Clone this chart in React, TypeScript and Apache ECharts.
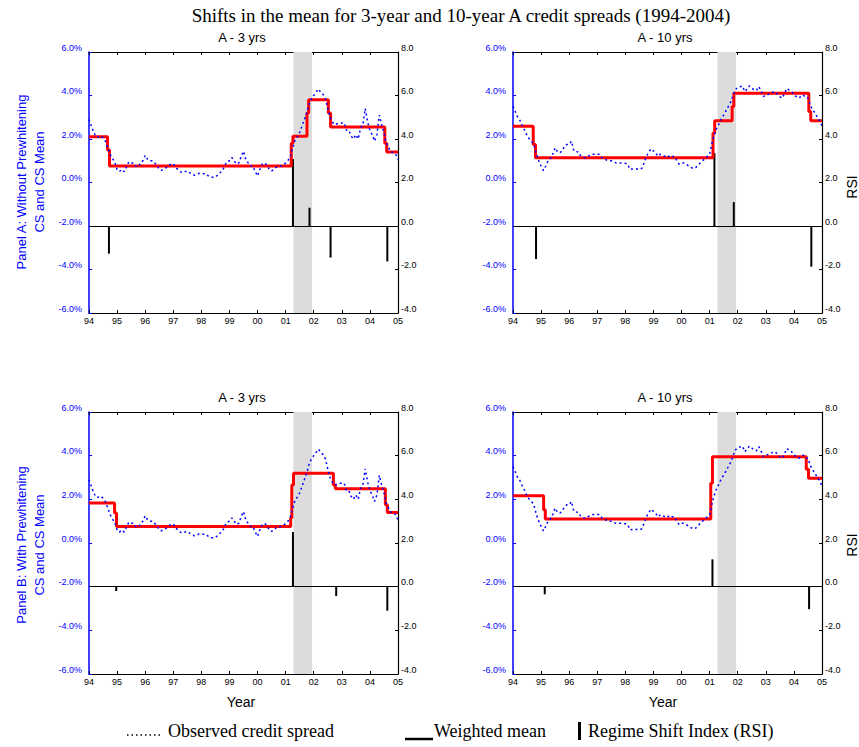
import React, { useEffect, useRef } from "react";
import * as echarts from "echarts";

// ---------------- DATA ----------------
const START_YEAR = 1994;
const END_YEAR = 2005;
const xTickYears = [1994, 1995, 1996, 1997, 1998, 1999, 2000, 2001, 2002, 2003, 2004, 2005];

// Observed monthly credit spreads (%), Jan 1994 .. Jan 2005
const obs3yr = [
  2.9, 2.6, 2.3, 2.1, 2.1, 2.15, 2.05, 1.9, 1.6, 1.3, 1.1, 0.95,
  0.6, 0.5, 0.6, 0.5, 0.72, 0.95, 0.9, 0.9, 0.75, 0.72, 0.87, 1.0,
  1.25, 1.07, 1.0, 1.0, 0.9, 0.8, 0.6, 0.56, 0.63, 0.68, 0.78, 0.85,
  0.87, 0.68, 0.6, 0.5, 0.45, 0.5, 0.53, 0.45, 0.4, 0.33, 0.35, 0.42,
  0.42, 0.4, 0.4, 0.3, 0.24, 0.24, 0.24, 0.35, 0.45, 0.53, 0.78, 0.96,
  1.0, 1.15, 1.0, 0.85, 0.9, 1.2, 1.44, 1.05, 0.9, 0.76, 0.76, 0.5,
  0.3, 0.6, 0.85, 0.9, 0.8, 0.6, 0.53, 0.6, 0.7, 0.76, 0.76, 0.8,
  0.9, 1.0, 1.2, 1.6, 1.95, 2.1, 2.3, 2.6, 2.9, 3.2, 3.6, 3.85,
  4.0, 4.15, 4.3, 4.15, 4.05, 3.85, 3.4, 3.0, 2.77, 2.66, 2.7, 2.74,
  2.74, 2.74, 2.4, 2.4, 2.13, 2.0, 2.2, 2.0, 2.5, 2.66, 3.4, 2.8,
  2.4, 2.2, 1.9, 2.2, 3.1, 2.66, 2.3, 1.8, 1.6, 1.4, 1.38, 1.3,
  1.06,
];

const obs10yr = [
  3.5, 3.25, 3.0, 2.85, 2.6, 2.4, 2.15, 2.0, 1.9, 1.7, 1.3, 1.0,
  0.76, 0.55, 0.76, 1.0, 1.1, 1.3, 1.6, 1.4, 1.37, 1.45, 1.67, 1.75,
  1.75, 1.9, 1.45, 1.42, 1.4, 1.2, 1.15, 1.14, 1.2, 1.25, 1.3, 1.3,
  1.3, 1.3, 1.14, 1.1, 1.03, 1.0, 1.0, 0.95, 0.9, 0.9, 0.9, 0.9,
  0.88, 0.84, 0.6, 0.62, 0.64, 0.62, 0.6, 0.65, 0.9, 1.2, 1.4, 1.55,
  1.45, 1.35, 1.2, 1.3, 1.25, 1.2, 1.25, 1.15, 1.2, 1.2, 1.0, 0.84,
  0.9, 0.9, 0.85, 0.76, 0.7, 0.64, 0.68, 0.8, 0.9, 1.0, 1.1, 1.2,
  1.3, 1.8, 2.2, 2.5, 2.7, 2.95, 3.1, 3.3, 3.5, 3.7, 4.0, 4.26,
  4.38, 4.4, 4.44, 4.18, 4.3, 4.44, 4.35, 4.25, 4.23, 4.41, 4.2, 3.95,
  4.03, 4.05, 4.1, 4.15, 4.18, 4.05, 3.95, 3.88, 4.1, 4.33, 4.25, 4.18,
  4.05, 3.95, 3.88, 3.95, 4.03, 3.9, 3.88, 3.55, 3.35, 3.2, 3.0, 2.85,
  2.6,
];

// Weighted mean: step change points (year) and level (%) from each point on
const meanA3Breaks = [1994.0, 1994.66, 1994.73, 2001.2, 2001.26, 2001.76, 2001.82, 2002.52, 2002.6, 2004.53, 2004.6, 2005.0];
const meanA3Levels = [2.1, 1.5, 0.76, 1.8, 2.13, 3.2, 3.8, 3.2, 2.55, 1.8, 1.4, 1.4];

const meanA10Breaks = [1994.0, 1994.72, 1994.8, 2001.12, 2001.18, 2001.8, 2001.86, 2004.53, 2004.6, 2005.0];
const meanA10Levels = [2.59, 1.75, 1.14, 2.28, 2.84, 3.5, 4.1, 3.27, 2.84, 2.84];

const meanB3Breaks = [1994.0, 1994.91, 1994.98, 2001.18, 2001.22, 2001.28, 2002.7, 2002.77, 2004.55, 2004.62, 2005.0];
const meanB3Levels = [1.83, 1.37, 0.76, 1.14, 2.66, 3.2, 2.66, 2.48, 1.75, 1.4, 1.4];

const meanB10Breaks = [1994.0, 1995.09, 1995.15, 2001.04, 2001.1, 2004.44, 2004.52, 2005.0];
const meanB10Levels = [2.16, 1.52, 1.1, 2.74, 3.95, 3.38, 2.97, 2.97];

// Regime Shift Index bars
const rsiA3Years = [1994.71, 2001.26, 2001.85, 2002.6, 2004.62];
const rsiA3Values = [-1.27, 3.08, 0.84, -1.45, -1.63];
const rsiA10Years = [1994.82, 2001.17, 2001.86, 2004.62];
const rsiA10Values = [-1.52, 3.35, 1.1, -1.87];
const rsiB3Years = [1994.97, 2001.26, 2002.8, 2004.62];
const rsiB3Values = [-0.2, 2.5, -0.43, -1.1];
const rsiB10Years = [1995.13, 2001.1, 2004.54];
const rsiB10Values = [-0.35, 1.25, -1.03];

// Recession shading
const recessionStart = 2001.28;
const recessionEnd = 2001.94;

const panelTitles = ["A - 3 yrs", "A - 10 yrs", "A - 3 yrs", "A - 10 yrs"];
const mainTitle = "Shifts in the mean for 3-year and 10-year A credit spreads (1994-2004)";

// ---------------- CHART ----------------
const SANS = "'Liberation Sans', Arial, sans-serif";
const SERIF = "'Liberation Serif', 'Times New Roman', serif";

type Panel = {
  grid: { left: number; top: number; width: number; height: number };
  obs: number[];
  breaks: number[];
  levels: number[];
  rsiYears: number[];
  rsiValues: number[];
};

function buildOption() {
  const panels: Panel[] = [
    { grid: { left: 89, top: 52, width: 309, height: 261 }, obs: obs3yr, breaks: meanA3Breaks, levels: meanA3Levels, rsiYears: rsiA3Years, rsiValues: rsiA3Values },
    { grid: { left: 513, top: 52, width: 309, height: 261 }, obs: obs10yr, breaks: meanA10Breaks, levels: meanA10Levels, rsiYears: rsiA10Years, rsiValues: rsiA10Values },
    { grid: { left: 89, top: 412, width: 309, height: 262 }, obs: obs3yr, breaks: meanB3Breaks, levels: meanB3Levels, rsiYears: rsiB3Years, rsiValues: rsiB3Values },
    { grid: { left: 513, top: 412, width: 309, height: 262 }, obs: obs10yr, breaks: meanB10Breaks, levels: meanB10Levels, rsiYears: rsiB10Years, rsiValues: rsiB10Values },
  ];

  const grids: any[] = [];
  const xAxes: any[] = [];
  const yAxes: any[] = [];
  const series: any[] = [];

  panels.forEach((p, i) => {
    grids.push({ ...p.grid, containLabel: false, show: false });
    // bottom x axis
    xAxes.push({
      type: "value",
      gridIndex: i,
      min: START_YEAR,
      max: END_YEAR,
      interval: 1,
      position: "bottom",
      axisLine: { show: true, onZero: false, lineStyle: { color: "#000", width: 1.2 } },
      axisTick: { show: true, inside: true, length: 3, lineStyle: { color: "#000" } },
      axisLabel: {
        show: true,
        margin: 3,
        color: "#000",
        fontFamily: SANS,
        fontSize: 9,
        formatter: (v: number) => String(Math.round(v) % 100).padStart(2, "0"),
      },
      splitLine: { show: false },
    });
    // top x axis (frame)
    xAxes.push({
      type: "value",
      gridIndex: i,
      min: START_YEAR,
      max: END_YEAR,
      interval: 1,
      position: "top",
      axisLine: { show: true, onZero: false, lineStyle: { color: "#000", width: 1.2 } },
      axisTick: { show: true, inside: true, length: 3, lineStyle: { color: "#000" } },
      axisLabel: { show: false },
      splitLine: { show: false },
    });
    // left y axis (credit spread %)
    yAxes.push({
      type: "value",
      gridIndex: i,
      position: "left",
      min: -6,
      max: 6,
      interval: 2,
      axisLine: { show: true, onZero: false, lineStyle: { color: "#0000ff", width: 1.5 } },
      axisTick: { show: true, inside: true, length: 3, lineStyle: { color: "#0000ff" } },
      axisLabel: {
        show: true,
        margin: 7,
        color: "#0000ff",
        fontFamily: SANS,
        fontSize: 9,
        verticalAlign: "bottom",
        formatter: (v: number) => v.toFixed(1) + "%",
      },
      splitLine: { show: false },
    });
    // right y axis (RSI)
    yAxes.push({
      type: "value",
      gridIndex: i,
      position: "right",
      min: -4,
      max: 8,
      interval: 2,
      axisLine: { show: true, onZero: false, lineStyle: { color: "#000", width: 1.2 } },
      axisTick: { show: true, inside: true, length: 3, lineStyle: { color: "#000" } },
      axisLabel: {
        show: true,
        margin: 3,
        color: "#000",
        fontFamily: SANS,
        fontSize: 9,
        verticalAlign: "bottom",
        formatter: (v: number) => v.toFixed(1),
      },
      splitLine: { show: false },
    });

    const xIdx = i * 2;
    const yLeft = i * 2;
    const yRight = i * 2 + 1;

    // RSI bars + zero line + recession shading
    series.push({
      type: "bar",
      name: "Regime Shift Index (RSI)",
      xAxisIndex: xIdx,
      yAxisIndex: yRight,
      data: p.rsiYears.map((yr, k) => [yr, p.rsiValues[k]]),
      barWidth: 2,
      itemStyle: { color: "#000" },
      z: 2,
      silent: true,
      markLine: {
        silent: true,
        symbol: ["none", "none"],
        label: { show: false },
        lineStyle: { color: "#000", width: 1.2, type: "solid" },
        data: [{ yAxis: 0 }],
      },
      markArea: {
        silent: true,
        itemStyle: { color: "#dcdcdc" },
        data: [[{ xAxis: recessionStart }, { xAxis: recessionEnd }]],
      },
    });
    // Weighted mean (red step)
    series.push({
      type: "line",
      name: "Weighted mean",
      xAxisIndex: xIdx,
      yAxisIndex: yLeft,
      step: "end",
      showSymbol: false,
      data: p.breaks.map((b, k) => [b, p.levels[k]]),
      lineStyle: { color: "#ff0000", width: 3 },
      z: 3,
      silent: true,
    });
    // Observed credit spread (blue dotted)
    series.push({
      type: "line",
      name: "Observed credit spread",
      xAxisIndex: xIdx,
      yAxisIndex: yLeft,
      showSymbol: false,
      data: p.obs.map((v, k) => [START_YEAR + k / 12, v]),
      lineStyle: { color: "#0000ff", width: 1.5, type: [2, 3] },
      z: 4,
      silent: true,
    });
  });

  const txt = (text: string, x: number, y: number, font: string, fill = "#000", align = "center", rotation = 0) => ({
    type: "text",
    x,
    y,
    rotation,
    silent: true,
    style: {
      text,
      font,
      fill,
      textAlign: align,
      textVerticalAlign: "middle",
      align,
      verticalAlign: "middle",
    },
  });

  const graphic: any[] = [
    txt(mainTitle, 461, 15, `19px ${SERIF}`),
    txt(panelTitles[0], 242, 37, `13px ${SANS}`),
    txt(panelTitles[1], 665, 37, `13px ${SANS}`),
    txt(panelTitles[2], 242, 397, `13px ${SANS}`),
    txt(panelTitles[3], 665, 397, `13px ${SANS}`),
    txt("Panel A: Without Prewhitening", 21, 182, `13px ${SANS}`, "#0000ff", "center", Math.PI / 2),
    txt("CS and CS Mean", 39, 182, `13px ${SANS}`, "#0000ff", "center", Math.PI / 2),
    txt("Panel B: With Prewhitening", 21, 545, `13px ${SANS}`, "#0000ff", "center", Math.PI / 2),
    txt("CS and CS Mean", 39, 545, `13px ${SANS}`, "#0000ff", "center", Math.PI / 2),
    txt("RSI", 852, 187, `14px ${SANS}`, "#000", "center", Math.PI / 2),
    txt("RSI", 852, 545, `14px ${SANS}`, "#000", "center", Math.PI / 2),
    txt("Year", 241, 702, `14px ${SANS}`),
    txt("Year", 663, 702, `14px ${SANS}`),
    // legend
    {
      type: "line",
      silent: true,
      shape: { x1: 127, y1: 735, x2: 161, y2: 735 },
      style: { stroke: "#000", lineWidth: 1.5, lineDash: [1.5, 3] },
    },
    txt("Observed credit spread", 168, 731, `18px ${SERIF}`, "#000", "left"),
    {
      type: "line",
      silent: true,
      shape: { x1: 405, y1: 739, x2: 433, y2: 739 },
      style: { stroke: "#000", lineWidth: 2.5 },
    },
    txt("Weighted mean", 434, 731, `18px ${SERIF}`, "#000", "left"),
    {
      type: "rect",
      silent: true,
      shape: { x: 578, y: 722, width: 3, height: 18 },
      style: { fill: "#000" },
    },
    txt("Regime Shift Index (RSI)", 588, 731, `18px ${SERIF}`, "#000", "left"),
  ];

  return {
    animation: false,
    backgroundColor: "#ffffff",
    grid: grids,
    xAxis: xAxes,
    yAxis: yAxes,
    series,
    graphic,
  };
}

export default function App() {
  const ref = useRef<HTMLDivElement>(null);
  useEffect(() => {
    if (!ref.current) return;
    const chart = echarts.init(ref.current, undefined, { renderer: "svg" });
    chart.setOption(buildOption() as any);
    return () => chart.dispose();
  }, []);
  return (
    <div
      ref={ref}
      style={{ position: "absolute", left: 0, top: 0, width: 859, height: 747, background: "#fff" }}
    />
  );
}
